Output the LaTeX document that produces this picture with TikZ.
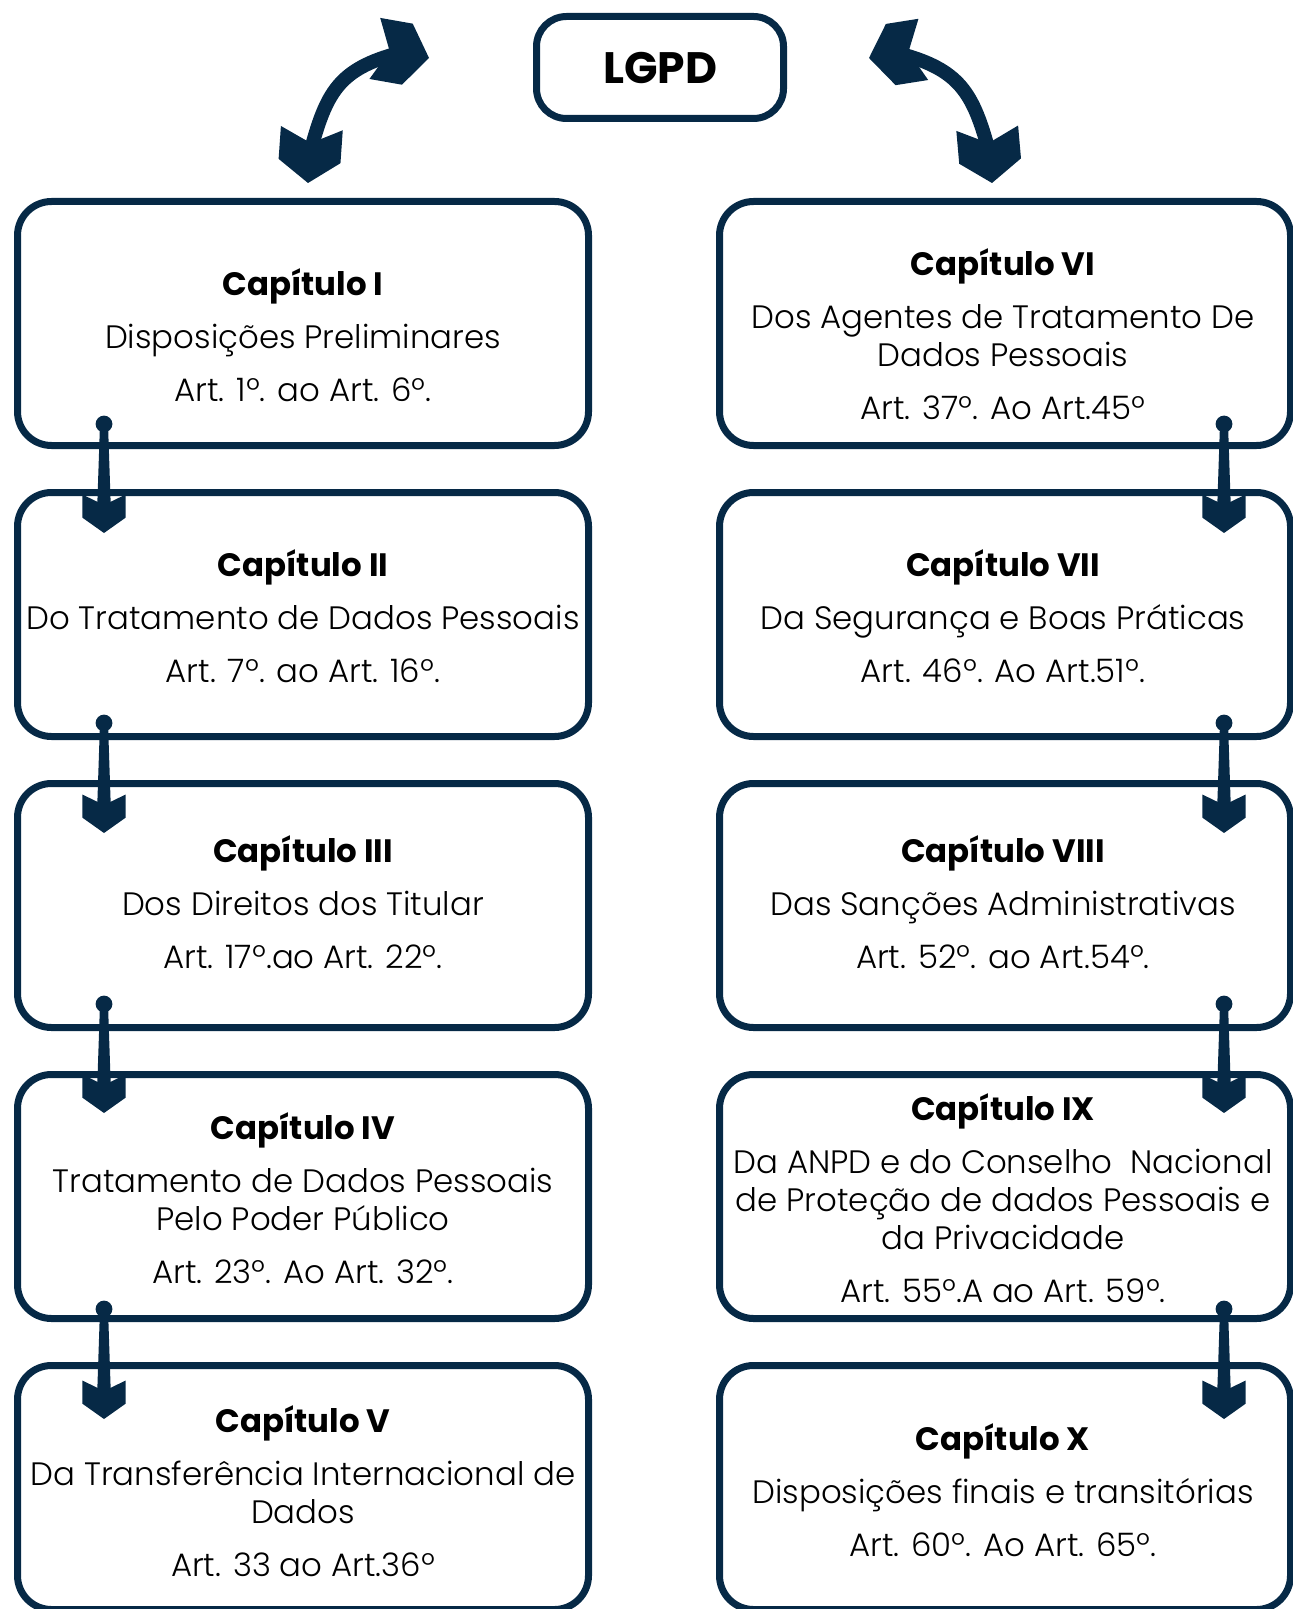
\documentclass[tikz,border=0pt]{standalone}
\usepackage{fontspec}
\setmainfont{Poppins}[UprightFont=* Light, BoldFont=* Bold]
\usetikzlibrary{calc}
\definecolor{navy}{RGB}{6,41,70}

\tikzset{
  chapbox/.style={draw=navy, line width=3.5pt, rounded corners=17pt,
                  minimum width=285.5pt, minimum height=122pt, inner sep=0pt},
  chaptext/.style={align=center, text=black, font=\fontsize{16.2}{19}\selectfont},
  knob/.style={circle, fill=navy, minimum size=8.4pt, inner sep=0pt},
  curvy/.style={navy, line width=7pt},
  chev/.pic={\fill[navy] (0,0) -- (-22,31) -- (-55,31) -- (-40,0) -- (-55,-31) -- (-22,-31) -- cycle;}
}

\begin{document}
\begin{tikzpicture}[x=0.5pt, y=0.5pt,
                    node distance=145.5pt]
  \useasboundingbox (0,0) rectangle (1292,-1609);

  \node[chapbox, minimum width=123.5pt, minimum height=51pt, rounded corners=15pt]
    (lgpd) at (660,-67.5) {\fontsize{22}{26}\selectfont\bfseries LGPD};

  % left column
  \node[chapbox] (c1) at (303,-323.5) {};
  \node[chapbox] (c2) [below of=c1] {};
  \node[chapbox] (c3) [below of=c2] {};
  \node[chapbox] (c4) [below of=c3] {};
  \node[chapbox] (c5) [below of=c4] {};

  % right column
  \node[chapbox] (c6) [node distance=351pt, right of=c1] {};
  \node[chapbox] (c7) [below of=c6] {};
  \node[chapbox] (c8) [below of=c7] {};
  \node[chapbox] (c9) [below of=c8] {};
  \node[chapbox] (c10) [below of=c9] {};

  \node[chaptext] (t1) at ([yshift=-6pt]c1.center)
    {{\bfseries Capítulo I}\\[7.5pt]Disposições Preliminares\\[7.5pt]Art. 1º. ao Art. 6º.};
  \node[chaptext] (t2) at ([yshift=-1pt]c2.center)
    {{\bfseries Capítulo II}\\[7.5pt]Do Tratamento de Dados Pessoais\\[7.5pt]Art. 7º. ao Art. 16º.};
  \node[chaptext] (t3) at ([yshift=1.5pt]c3.center)
    {{\bfseries Capítulo III}\\[7.5pt]Dos Direitos dos Titular\\[7.5pt]Art. 17º.ao Art. 22º.};
  \node[chaptext] (t4) at ([yshift=-1pt]c4.center)
    {{\bfseries Capítulo IV}\\[7.5pt]Tratamento de Dados Pessoais\\Pelo Poder Público\\[7.5pt]Art. 23º. Ao Art. 32º.};
  \node[chaptext] (t5) at ([yshift=-2pt]c5.center)
    {{\bfseries Capítulo V}\\[7.5pt]Da Transferência Internacional de\\Dados\\[7.5pt]Art. 33 ao Art.36º};

  \node[chaptext] (t6) at ([xshift=-1pt,yshift=-5.5pt]c6.center)
    {{\bfseries Capítulo VI}\\[7.5pt]Dos Agentes de Tratamento De\\Dados Pessoais\\[7.5pt]Art. 37º. Ao Art.45º};
  \node[chaptext] (t7) at ([xshift=-1pt,yshift=-1pt]c7.center)
    {{\bfseries Capítulo VII}\\[7.5pt]Da Segurança e Boas Práticas\\[7.5pt]Art. 46º. Ao Art.51º.};
  \node[chaptext] (t8) at ([xshift=-1pt,yshift=1.5pt]c8.center)
    {{\bfseries Capítulo VIII}\\[7.5pt]Das Sanções Administrativas\\[7.5pt]Art. 52º. ao Art.54º.};
  \node[chaptext] (t9) at ([xshift=-1pt,yshift=-1pt]c9.center)
    {{\bfseries Capítulo IX}\\[7.5pt]Da ANPD e do Conselho\ \ Nacional\\de Proteção de dados Pessoais e\\da Privacidade\\[7.5pt]Art. 55º.A ao Art. 59º.};
  \node[chaptext] (t10) at ([xshift=-1pt,yshift=-1.5pt]c10.center)
    {{\bfseries Capítulo X}\\[7.5pt]Disposições finais e transitórias\\[7.5pt]Art. 60º. Ao Art. 65º.};

  % small arrows between chapters
  \foreach \px/\dy/\ty [count=\i] in {104/424/533, 104/723/833, 104/1004/1113, 104/1309/1419,
                                       1224/424/533, 1224/723/833, 1224/1004/1113, 1224/1309/1419}
  {
    \node[knob] (k\i) at (\px,-\dy) {};
    \coordinate (h\i) at (\px,-\ty);
    \fill[navy] ([xshift=-2pt]k\i.center) -- ([xshift=2pt]k\i.center)
      -- ([xshift=3.5pt,yshift=10pt]h\i) -- ([xshift=-3.5pt,yshift=10pt]h\i) -- cycle;
    \pic[scale=0.7, rotate=-90] at (h\i) {chev};
  }

  % curved arrows from LGPD
  \coordinate (lb) at (308,-183);
  \coordinate (lbs) at (310,-153);
  \coordinate (lt) at (429,-58);
  \coordinate (lts) at (399.5,-52.8);
  \draw[curvy] (lbs) to[out=75, in=195, looseness=1.2] (lts);
  \pic[rotate=-94] at (lb) {chev};
  \pic[rotate=-10] at (lt) {chev};

  \coordinate (rt) at (869,-58);
  \coordinate (rts) at (898.6,-53.3);
  \coordinate (rb) at (992,-183);
  \coordinate (rbs) at (989.4,-153);
  \draw[curvy] (rts) to[out=-15, in=105, looseness=1.2] (rbs);
  \pic[rotate=189] at (rt) {chev};
  \pic[rotate=-85] at (rb) {chev};
\end{tikzpicture}
\end{document}
